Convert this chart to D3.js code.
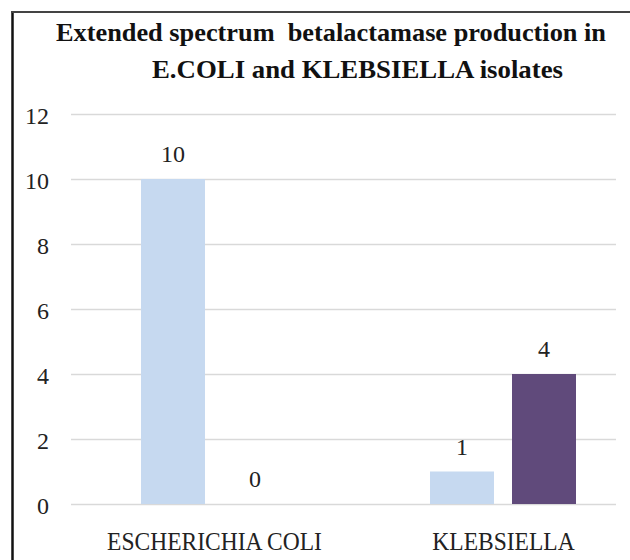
<!DOCTYPE html>
<html>
<head>
<meta charset="utf-8">
<script src="https://cdn.jsdelivr.net/npm/d3@7"></script>
<style>
  html, body { margin: 0; padding: 0; background: #fff; }
  svg { display: block; }
  text { font-family: "Liberation Serif", "Times New Roman", serif; }
</style>
</head>
<body>
<script>
const titleLines = ["Extended spectrum  betalactamase production in", "E.COLI and KLEBSIELLA isolates"];
const categories = ["ESCHERICHIA COLI", "KLEBSIELLA"];
const seriesNames = ["Series 1", "Series 2"];
const series1Values = [10, 1];
const series2Values = [0, 4];
const yTickValues = [0, 2, 4, 6, 8, 10, 12];

const W = 630, H = 560;
const colors = ["#c6d9f0", "#604a7b"];

const svg = d3.select("body").append("svg").attr("width", W).attr("height", H);

// Frame: left and top borders
svg.append("line").attr("x1", 12.5).attr("x2", 12.5).attr("y1", 11).attr("y2", H)
  .attr("stroke", "#111").attr("stroke-width", 2.5);
svg.append("line").attr("x1", 11).attr("x2", W).attr("y1", 12).attr("y2", 12)
  .attr("stroke", "#444").attr("stroke-width", 2);

// Title
const titleX = [56, 152], titleY = [41, 78], titleLen = [550, 411];
titleLines.forEach((t, i) => {
  svg.append("text")
    .attr("x", titleX[i]).attr("y", titleY[i])
    .attr("font-size", 26).attr("font-weight", "bold").attr("fill", "#111")
    .style("white-space", "pre")
    .attr("textLength", titleLen[i]).attr("lengthAdjust", "spacingAndGlyphs")
    .text(t);
});

// Scales
const y = d3.scaleLinear().domain([0, 12]).range([504, 114]);
const x0 = d3.scalePoint().domain(categories).range([214, 503]);
const x1 = d3.scaleBand().domain(seriesNames).range([-73, 73]).paddingInner(18 / 82).paddingOuter(0);

// Gridlines
svg.append("g").selectAll("line").data(yTickValues).join("line")
  .attr("x1", 71).attr("x2", 616)
  .attr("y1", d => Math.round(y(d)) + 0.5).attr("y2", d => Math.round(y(d)) + 0.5)
  .attr("stroke", "#d9d9d9").attr("stroke-width", 1.6);

// Y axis labels
const yAxis = d3.axisLeft(y).tickValues(yTickValues).tickSize(0).tickPadding(0).tickFormat(d3.format("d"));
const gy = svg.append("g").attr("transform", "translate(49,0)").call(yAxis);
gy.select(".domain").remove();
gy.selectAll("text")
  .attr("font-family", "'Liberation Serif', 'Times New Roman', serif")
  .attr("font-size", 24).attr("fill", "#222").attr("dy", 9).attr("x", 0);

// Bars
const rows = categories.map((c, i) => ({ cat: c, vals: [series1Values[i], series2Values[i]] }));
const groups = svg.append("g").selectAll("g").data(rows).join("g")
  .attr("transform", d => `translate(${x0(d.cat)},0)`);

groups.selectAll("rect").data(d => d.vals.map((v, j) => ({ s: seriesNames[j], v, j }))).join("rect")
  .attr("x", d => x1(d.s))
  .attr("width", x1.bandwidth())
  .attr("y", d => y(d.v))
  .attr("height", d => y(0) - y(d.v))
  .attr("fill", d => colors[d.j]);

groups.selectAll("text").data(d => d.vals.map((v, j) => ({ s: seriesNames[j], v, j }))).join("text")
  .attr("x", d => x1(d.s) + x1.bandwidth() / 2)
  .attr("y", d => y(d.v) - 17)
  .attr("text-anchor", "middle")
  .attr("font-size", 24).attr("fill", "#222")
  .text(d => d.v);

// Category labels
const xAxis = d3.axisBottom(x0).tickSize(0).tickPadding(0);
const gx = svg.append("g").attr("transform", "translate(0,550)").call(xAxis);
gx.select(".domain").remove();
gx.selectAll("text")
  .attr("font-family", "'Liberation Serif', 'Times New Roman', serif")
  .attr("font-size", 25).attr("fill", "#222").attr("dy", 0).attr("y", 0)
  .each(function () {
    const len = this.getComputedTextLength();
    d3.select(this).attr("textLength", len * 0.94).attr("lengthAdjust", "spacingAndGlyphs");
  });
</script>
</body>
</html>
